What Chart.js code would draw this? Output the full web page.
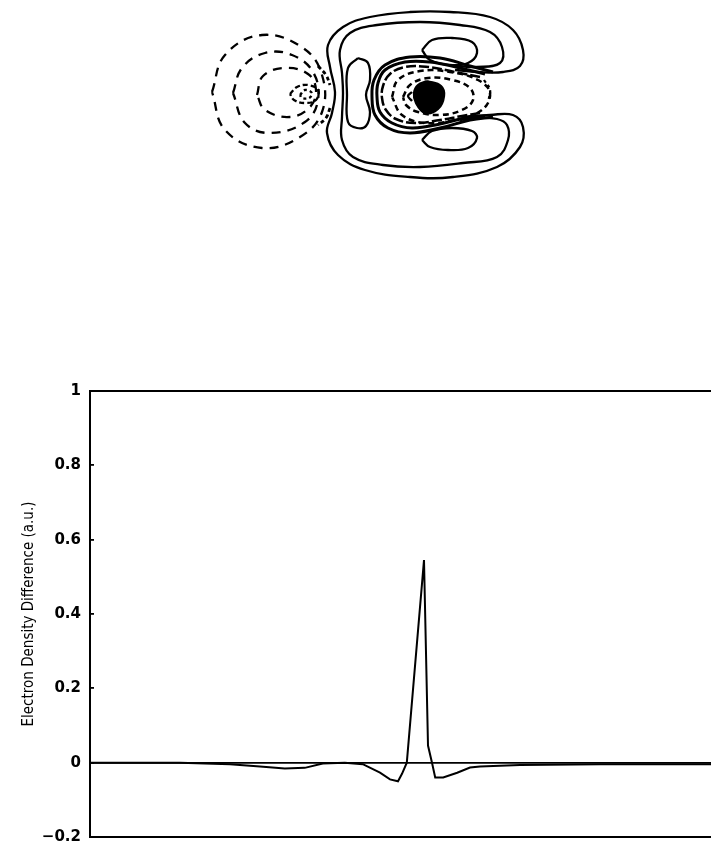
<!DOCTYPE html>
<html>
<head>
<meta charset="utf-8">
<script src="https://cdn.jsdelivr.net/npm/chart.js@4.4.1/dist/chart.umd.min.js"></script>
<style>
  html, body { margin: 0; padding: 0; background: #fff; overflow: hidden; }
  body { width: 711px; height: 843px; position: relative; }
  #mapWrap { position: absolute; left: 200px; top: 0; width: 340px; height: 200px; }
  #profileWrap { position: absolute; left: 0; top: 369px; width: 720px; height: 490px; }
</style>
</head>
<body>
<div id="mapWrap"><canvas id="densityMap" width="340" height="200"></canvas></div>
<div id="profileWrap"><canvas id="profile" width="720" height="490"></canvas></div>
<script>
// --- line profile along the bond axis ---
const distance = [-8.35, -6.1, -4.85, -4.1, -3.48, -2.98, -2.53, -1.98, -1.53, -1.1, -0.85, -0.65, -0.55, -0.43,
                  0, 0.1, 0.2, 0.28, 0.48, 0.83, 1.15, 1.4, 2.4, 4.4, 7.25];
const densityDiff = [0, 0, -0.004, -0.01, -0.016, -0.014, -0.002, 0, -0.004, -0.027, -0.045, -0.05, -0.03, 0,
                     0.545, 0.046, 0, -0.04, -0.04, -0.027, -0.013, -0.01, -0.006, -0.004, -0.004];
const yTickValues = [-0.2, 0, 0.2, 0.4, 0.6, 0.8, 1];
const yTickLabels = ["\u22120.2", "0", "0.2", "0.4", "0.6", "0.8", "1"];

// --- contour map (units: 10 px, origin at nucleus) ---
// negative (dashed) contours
const negOuter = [[-21.8, 0.3], [-20.5, 4], [-16.8, 6], [-12.7, 4.7], [-10.8, 2], [-10.8, -1.7], [-13, -4.2], [-16.8, -5.3], [-20.5, -3.5]];
const negMid = [[-19.7, 0.2], [-18.8, 2.7], [-16.5, 4.2], [-13.8, 4], [-11.7, 2.3], [-11.2, -0.5], [-12.5, -2.7], [-16, -3.8], [-18.5, -2.8]];
const negInner = [[-17.3, 0], [-16.7, 1.9], [-14.5, 2.7], [-12.2, 2.1], [-11.4, 0.5], [-12, -1.2], [-14, -2.2], [-16.5, -1.5]];
const negSmall = [[-14, 0.1], [-13.3, 0.8], [-12.2, 1], [-11.2, 0.5], [-11.4, -0.5], [-12.5, -0.8], [-13.6, -0.5]];
const negTiny = [[-13, 0], [-12.5, 0.5], [-11.8, 0.2], [-12.1, -0.3], [-12.8, -0.3]];
const negArcTop = [[-11.2, 2.9], [-10.4, 2], [-10, 1]];
const negArcBottom = [[-10, -1.3], [-10.4, -2.3], [-11.2, -3]];
const coreDashOuter = [[-3.8, -0.2], [-3.2, 1.5], [-1, 2.4], [2, 2.3], [4.8, 1.5], [6, 0.2], [5.2, -1.5], [2.5, -2.5], [-0.5, -2.8], [-2.8, -2]];
const coreDashInner = [[-2.7, -0.2], [-2, 1], [-0.2, 1.7], [2.2, 1.5], [4, 0.7], [4.3, -0.5], [3.2, -1.5], [1, -2], [-1.2, -1.7], [-2.4, -1]];
const coreHook = [[-1.8, 0.3], [-2.2, -0.1], [-1.8, -0.6]];
const coreRightArc = [[5.4, 1.5], [6, 0.5], [5.8, -0.7]];

// positive (solid) contours
const posOuter = [[2.5, 2.5], [4.8, 2.3], [7.3, 2.3], [9, 2.9], [9.3, 4.5], [8.3, 6.5], [6, 7.8], [2, 8.3], [-2, 8.3], [-6, 7.8],
                  [-8.7, 6.8], [-10.2, 5], [-10, 2.8], [-9.5, 0.3], [-9.8, -1.8], [-10.3, -3.8], [-9.2, -6], [-6.5, -7.5],
                  [-2, -8.2], [2.3, -8.2], [6.7, -7.2], [9, -5.2], [9.3, -3.2], [8.3, -2], [6, -2], [3.3, -2.2]];
const posSecond = [[2.7, 2.9], [4.7, 2.8], [7, 3.2], [7.2, 4.8], [6, 6.3], [3, 7], [-1, 7.3], [-5.3, 7], [-8, 6.2], [-9, 4.5],
                   [-8.8, 2.2], [-8.7, 0.2], [-8.8, -2.2], [-8.8, -4.5], [-7.7, -6.2], [-4.7, -7], [-1, -7.2], [3.3, -6.8],
                   [6.7, -6.2], [7.8, -4.5], [7.7, -3], [6.7, -2.4], [4.7, -2.3], [3, -2.5]];
const posLeftLobe = [[-7.2, 3.7], [-6.2, 3.2], [-6, 1.5], [-6.4, 0], [-6, -1.7], [-6.4, -3.1], [-7.3, -3.3], [-8.2, -2.7], [-8.3, 0], [-8.2, 2.7]];
const posTopLobe = [[-0.8, 4.5], [0.2, 5.5], [2.2, 5.7], [4.2, 5.3], [4.7, 4.2], [3.8, 3.2], [2, 3], [0, 3.5]];
const posBottomLobe = [[-0.8, -4.5], [0.2, -3.6], [2.2, -3.3], [4.2, -3.6], [4.7, -4.3], [3.8, -5.3], [1.8, -5.5], [0, -5.2]];
const coreRing1 = [[6.3, 2.3], [4, 2.9], [1, 3.7], [-2, 3.8], [-4.5, 3], [-5.6, 1.5], [-5.8, -0.2], [-5.5, -2], [-4.2, -3.3], [-2, -3.8], [1, -3.3], [4, -2.5], [6.3, -2.2]];
const coreRing2 = [[5.5, 2.1], [3, 2.7], [0, 3.3], [-2.5, 3.3], [-4.5, 2.5], [-5.2, 1.2], [-5.3, -0.2], [-5, -1.7], [-3.8, -2.8], [-1.8, -3.3], [1, -2.9], [3.5, -2.3], [5.5, -2.1]];
const coreRing3 = [[5, 1.8], [2.5, 2.3], [-0.2, 2.8], [-2.5, 2.8], [-4, 2.1], [-4.7, 0.9], [-4.8, -0.3], [-4.4, -1.5], [-3.4, -2.4], [-1.5, -2.8], [1, -2.5], [3.2, -2.1], [5, -1.8]];
const nucleus = [[-0.3, 1.4], [1.1, 0.9], [1.4, -0.1], [0.8, -1.4], [-0.5, -1.8], [-1.4, -0.8], [-1.6, 0.2], [-1.2, 1]];

document.addEventListener("DOMContentLoaded", () => {
    const pts = (arr, closed) => {
        const p = arr.map(([x, y]) => ({ x, y }));
        if (closed) p.push({ ...p[0] });
        return p;
    };
    const dash = [9, 7];
    const smallDash = [6, 4];

    const contours = [
        { d: negOuter, closed: true, dash: dash },
        { d: negMid, closed: true, dash: dash },
        { d: negInner, closed: true, dash: dash },
        { d: negSmall, closed: true, dash: [5, 3] },
        { d: negTiny, closed: true, dash: [3, 3] },
        { d: negArcTop, closed: false, dash: [4, 3], w: 2.8 },
        { d: negArcBottom, closed: false, dash: [4, 3], w: 2.8 },
        { d: posOuter, closed: false },
        { d: posSecond, closed: false },
        { d: posLeftLobe, closed: true },
        { d: posTopLobe, closed: true },
        { d: posBottomLobe, closed: true },
        { d: coreRing1, closed: false, w: 3 },
        { d: coreRing2, closed: false, w: 3 },
        { d: coreRing3, closed: false, w: 2.5, dash: [10, 3] },
        { d: coreDashOuter, closed: true, dash: smallDash, w: 2.5 },
        { d: coreDashInner, closed: true, dash: smallDash, w: 2.5 },
        { d: coreHook, closed: false },
        { d: coreRightArc, closed: false, dash: [3, 3] },
        { d: nucleus, closed: true, fill: true }
    ];

    new Chart(document.getElementById("densityMap"), {
        type: "scatter",
        data: {
            datasets: contours.map(c => ({
                data: pts(c.d, c.closed),
                showLine: true,
                borderColor: "#000",
                backgroundColor: "#000",
                borderWidth: c.w || 2.3,
                borderDash: c.dash || [],
                pointRadius: 0,
                tension: 0.4,
                fill: c.fill ? "shape" : false
            }))
        },
        options: {
            responsive: false,
            animation: false,
            events: [],
            layout: { padding: 0 },
            plugins: { legend: { display: false }, tooltip: { enabled: false } },
            scales: {
                x: { type: "linear", display: false, min: -23, max: 11 },
                y: { type: "linear", display: false, min: -10.5, max: 9.5 }
            }
        }
    });

    const xMin = distance[0];
    const xMax = distance[distance.length - 1];
    const frame = { display: true, color: "#000", width: 2 };

    new Chart(document.getElementById("profile"), {
        type: "scatter",
        data: {
            datasets: [{
                data: distance.map((x, i) => ({ x, y: densityDiff[i] })),
                showLine: true,
                borderColor: "#000",
                borderWidth: 2,
                pointRadius: 0,
                tension: 0
            }]
        },
        options: {
            responsive: false,
            animation: false,
            events: [],
            layout: { padding: { top: 22, right: 6, bottom: 12, left: 0 } },
            plugins: { legend: { display: false }, tooltip: { enabled: false } },
            scales: {
                x: {
                    type: "linear", position: "bottom", min: xMin, max: xMax,
                    ticks: { display: false }, grid: { display: false }, border: frame,
                    afterFit: s => { s.height = 0; }
                },
                xTop: {
                    type: "linear", position: "top", min: xMin, max: xMax,
                    ticks: { display: false }, grid: { display: false }, border: frame,
                    afterFit: s => { s.height = 0; }
                },
                y: {
                    type: "linear", position: "left", min: -0.2, max: 1,
                    afterBuildTicks: s => { s.ticks = yTickValues.map(v => ({ value: v })); },
                    ticks: {
                        color: "#000",
                        padding: 13,
                        font: { family: "'DejaVu Sans'", size: 15, weight: "bold" },
                        callback: (v, i) => yTickLabels[i]
                    },
                    grid: {
                        color: c => (c.tick && c.tick.value === 0 ? "#000" : "rgba(0,0,0,0)"),
                        tickColor: "#000",
                        tickLength: -4,
                        lineWidth: 1.8
                    },
                    border: frame,
                    title: {
                        display: true,
                        text: "Electron Density Difference (a.u.)",
                        color: "#000",
                        font: { family: "'Liberation Sans Narrow', 'DejaVu Sans Condensed', 'Liberation Sans'", size: 15 },
                        padding: { top: 20, bottom: 0 }
                    },
                    afterFit: s => { s.width = 90; }
                }
            }
        }
    });
});
</script>
</body>
</html>
